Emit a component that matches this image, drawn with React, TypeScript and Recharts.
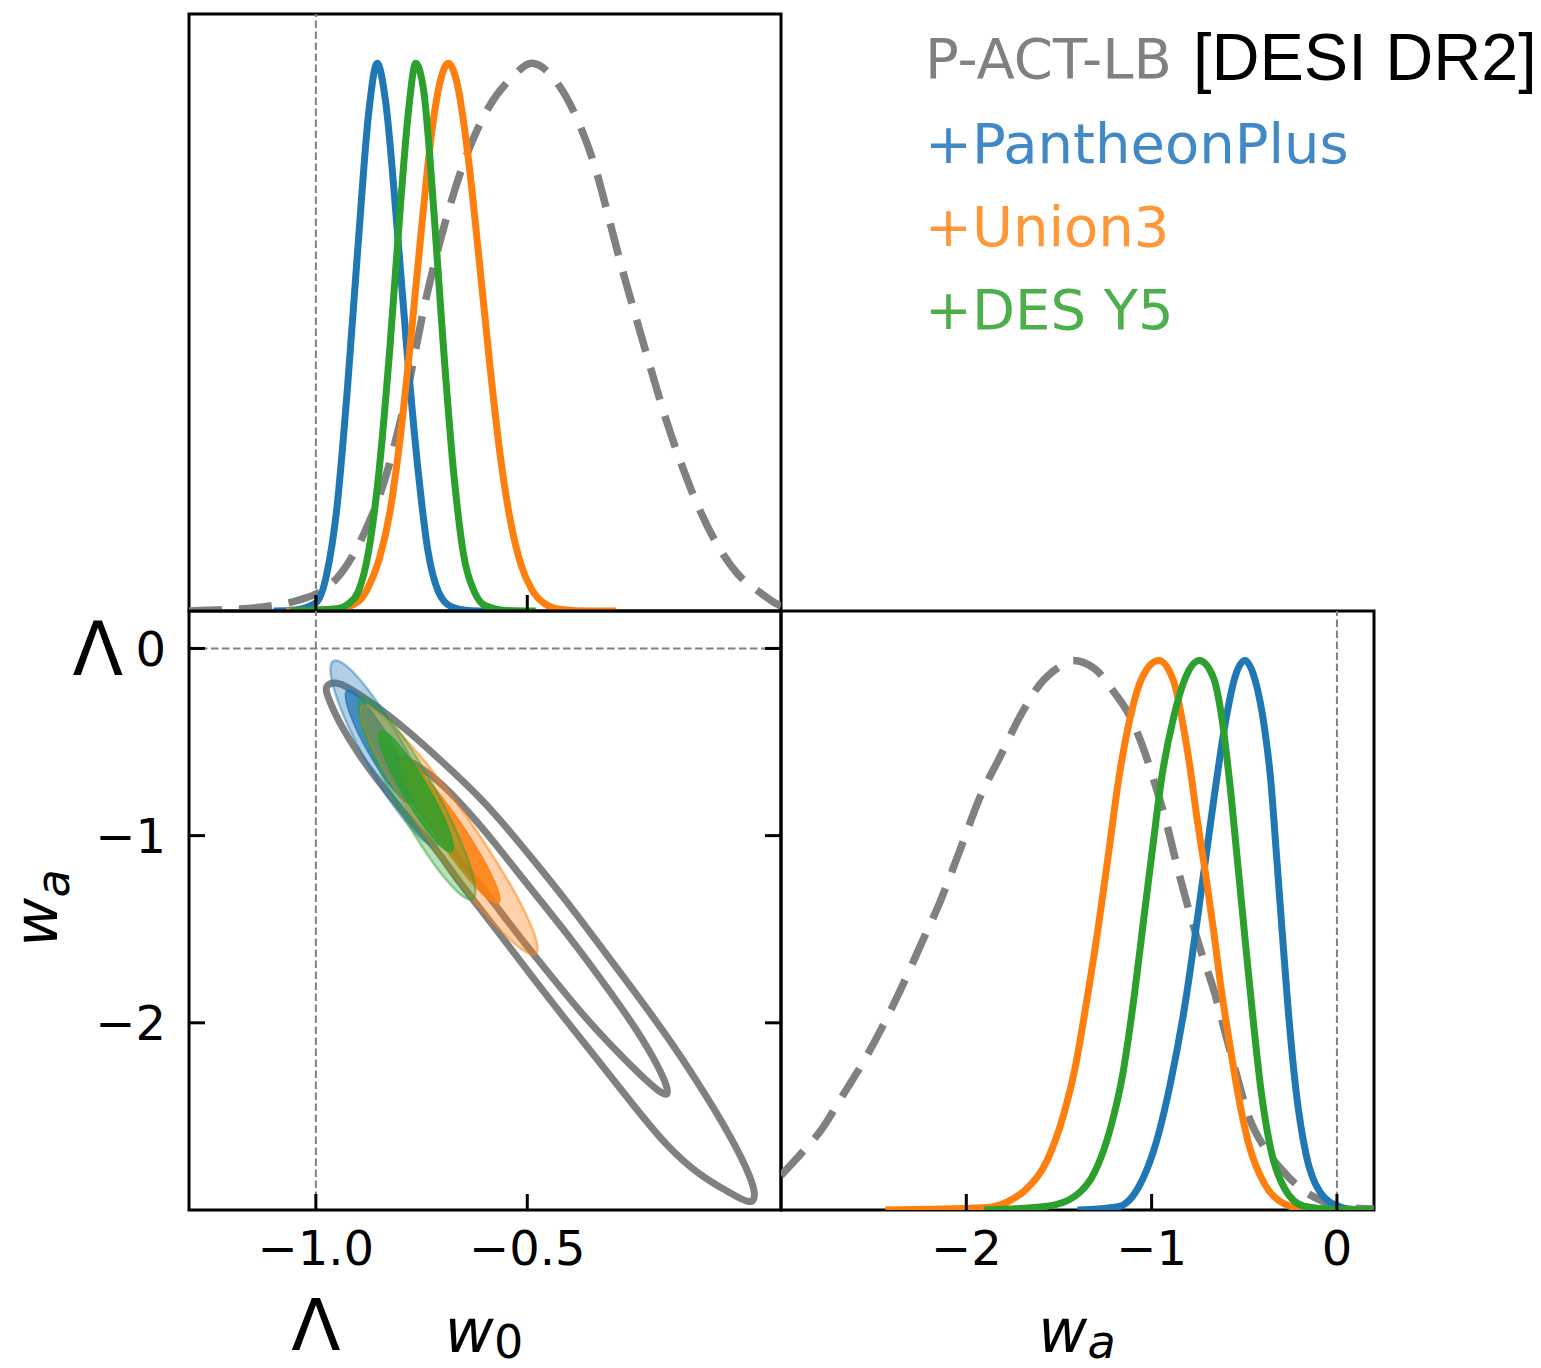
import React from 'react';
import {
  LineChart,
  Line,
  ScatterChart,
  Scatter,
  XAxis,
  YAxis,
  ReferenceLine,
  ReferenceArea,
} from 'recharts';

const PAGE_W = 1541;
const PAGE_H = 1368;

// ---------- axes ----------
const W0_DOMAIN: [number, number] = [-1.3, 0.1];
const WA_DOMAIN: [number, number] = [-3.0, 0.2];
const P_DOMAIN: [number, number] = [0, 1.09];
const W0_TICKS = [-1.0, -0.5];
const WA_TICKS = [0, -1, -2];
const WA_TICKS_BOTTOM = [-2, -1, 0];
const LAMBDA_W0 = -1;
const LAMBDA_WA = 0;
const LAMBDA_LABEL = '\u039B';

// ---------- legend ----------
const LEGEND_TITLE = 'P-ACT-LB';
const LEGEND_TAG = '[DESI DR2]';
const SERIES_NAMES = ['+PantheonPlus', '+Union3', '+DES Y5'];

// ---------- 1D marginals of w0 (w0, normalised density) ----------
const W0_GRAY: [number, number][] = [
  [-1.3, 0.0], [-1.2, 0.003], [-1.13, 0.007], [-1.04, 0.02], [-0.99, 0.035], [-0.95, 0.06],
  [-0.89, 0.135], [-0.835, 0.245], [-0.787, 0.39], [-0.741, 0.565], [-0.694, 0.71],
  [-0.647, 0.825], [-0.591, 0.92], [-0.535, 0.975], [-0.49, 1.0], [-0.43, 0.965],
  [-0.386, 0.905], [-0.34, 0.811], [-0.302, 0.702], [-0.274, 0.62], [-0.237, 0.52],
  [-0.209, 0.445], [-0.172, 0.35], [-0.134, 0.265], [-0.097, 0.193], [-0.05, 0.12],
  [-0.004, 0.069], [0.052, 0.033], [0.085, 0.015], [0.1, 0.009],
];
const W0_BLUE: [number, number][] = [
  [-1.1, 0], [-1.05, 0.002], [-1.0, 0.015], [-0.975, 0.065], [-0.95, 0.19], [-0.925, 0.41],
  [-0.9, 0.67], [-0.875, 0.91], [-0.855, 1.0], [-0.835, 0.93], [-0.81, 0.72], [-0.785, 0.48],
  [-0.76, 0.27], [-0.735, 0.11], [-0.71, 0.035], [-0.68, 0.008], [-0.64, 0.001], [-0.6, 0],
];
const W0_ORANGE: [number, number][] = [
  [-1.07, 0], [-0.95, 0.003], [-0.9, 0.017], [-0.875, 0.045], [-0.85, 0.095], [-0.825, 0.18],
  [-0.8, 0.32], [-0.775, 0.5], [-0.75, 0.7], [-0.725, 0.88], [-0.705, 0.97], [-0.687, 1.0],
  [-0.665, 0.96], [-0.64, 0.83], [-0.615, 0.65], [-0.59, 0.46], [-0.565, 0.29], [-0.54, 0.165],
  [-0.515, 0.085], [-0.49, 0.04], [-0.46, 0.014], [-0.42, 0.003], [-0.35, 0], [-0.29, 0],
];
const W0_GREEN: [number, number][] = [
  [-1.06, 0], [-0.95, 0.004], [-0.925, 0.012], [-0.9, 0.035], [-0.875, 0.11], [-0.85, 0.26],
  [-0.825, 0.48], [-0.8, 0.74], [-0.78, 0.92], [-0.764, 1.0], [-0.745, 0.95], [-0.72, 0.72],
  [-0.7, 0.5], [-0.675, 0.26], [-0.65, 0.1], [-0.625, 0.035], [-0.6, 0.01], [-0.55, 0.001],
  [-0.48, 0],
];

// ---------- 1D marginals of wa ----------
const WA_GRAY: [number, number][] = [
  [-3.0, 0.063], [-2.885, 0.105], [-2.778, 0.148], [-2.672, 0.206], [-2.565, 0.264],
  [-2.458, 0.33], [-2.352, 0.403], [-2.245, 0.483], [-2.139, 0.563], [-2.032, 0.657],
  [-1.925, 0.752], [-1.819, 0.824], [-1.712, 0.897], [-1.606, 0.955], [-1.499, 0.988],
  [-1.424, 1.0], [-1.307, 0.985], [-1.2, 0.941], [-1.115, 0.897], [-1.051, 0.846],
  [-0.987, 0.781], [-0.923, 0.708], [-0.859, 0.621], [-0.795, 0.541], [-0.731, 0.468],
  [-0.667, 0.403], [-0.603, 0.323], [-0.539, 0.243], [-0.476, 0.17], [-0.39, 0.113],
  [-0.305, 0.076], [-0.198, 0.04], [-0.07, 0.015], [0.058, 0.004], [0.2, 0.002],
];
const WA_BLUE: [number, number][] = [
  [-1.4, 0], [-1.18, 0.006], [-1.073, 0.04], [-0.987, 0.11], [-0.902, 0.225], [-0.817, 0.38],
  [-0.753, 0.53], [-0.71, 0.635], [-0.657, 0.765], [-0.603, 0.885], [-0.55, 0.97],
  [-0.497, 1.0], [-0.443, 0.966], [-0.39, 0.875], [-0.358, 0.785], [-0.326, 0.645],
  [-0.294, 0.5], [-0.262, 0.36], [-0.22, 0.215], [-0.166, 0.1], [-0.092, 0.033],
  [0.015, 0.006], [0.1, 0.001], [0.2, 0],
];
const WA_ORANGE: [number, number][] = [
  [-2.437, 0], [-1.904, 0.004], [-1.776, 0.015], [-1.67, 0.04], [-1.563, 0.091], [-1.478, 0.17],
  [-1.414, 0.257], [-1.35, 0.381], [-1.286, 0.519], [-1.232, 0.65], [-1.179, 0.781],
  [-1.115, 0.897], [-1.051, 0.969], [-0.962, 1.0], [-0.881, 0.962], [-0.838, 0.897],
  [-0.795, 0.81], [-0.753, 0.708], [-0.71, 0.614], [-0.667, 0.512], [-0.625, 0.403],
  [-0.582, 0.309], [-0.539, 0.221], [-0.476, 0.12], [-0.39, 0.047], [-0.284, 0.011],
  [-0.177, 0.002], [0.0, 0], [0.2, 0],
];
const WA_GREEN: [number, number][] = [
  [-1.904, 0], [-1.563, 0.007], [-1.414, 0.025], [-1.307, 0.069], [-1.222, 0.149],
  [-1.158, 0.243], [-1.094, 0.389], [-1.041, 0.534], [-0.998, 0.65], [-0.945, 0.788],
  [-0.881, 0.897], [-0.817, 0.969], [-0.742, 1.0], [-0.667, 0.969], [-0.625, 0.904],
  [-0.582, 0.788], [-0.539, 0.643], [-0.497, 0.497], [-0.454, 0.352], [-0.411, 0.221],
  [-0.358, 0.112], [-0.284, 0.04], [-0.177, 0.007], [0.0, 0.001], [0.2, 0],
];

// ---------- 2D contours (w0, wa) ----------
const GRAY_95: [number, number][] = [
  [-0.9787, -0.2011], [-0.9551, -0.1743], [-0.9196, -0.2118], [-0.8558, -0.308], [-0.7778, -0.4471],
  [-0.6998, -0.6075], [-0.6194, -0.7786], [-0.565, -0.9123], [-0.487, -1.1262], [-0.4066, -1.3508],
  [-0.3286, -1.5861], [-0.2506, -1.8214], [-0.1702, -2.0674], [-0.0922, -2.3348], [-0.0284, -2.5701],
  [0.0189, -2.7733], [0.0426, -2.9176], [0.0307, -2.9765], [-0.0213, -2.907], [-0.0922, -2.816],
  [-0.1702, -2.661], [-0.2506, -2.4364], [-0.3286, -2.2118], [-0.4066, -1.9925], [-0.487, -1.7572],
  [-0.565, -1.5273], [-0.6194, -1.3668], [-0.6714, -1.2171], [-0.7234, -1.046], [-0.7612, -0.9604],
  [-0.8085, -0.8321], [-0.8558, -0.6984], [-0.896, -0.5754], [-0.9362, -0.431], [-0.9598, -0.3241],
  [-0.974, -0.2439],
];
const GRAY_68: [number, number][] = [
  [-0.818, -0.6021], [-0.7967, -0.5754], [-0.7376, -0.6556], [-0.6832, -0.7626], [-0.6194, -0.923],
  [-0.565, -1.0727], [-0.487, -1.2973], [-0.4066, -1.5219], [-0.3286, -1.7572], [-0.2506, -2.0032],
  [-0.1986, -2.1957], [-0.1702, -2.3294], [-0.1655, -2.3936], [-0.1868, -2.3722], [-0.234, -2.2759],
  [-0.305, -2.1155], [-0.3759, -1.939], [-0.4468, -1.7412], [-0.5177, -1.5433], [-0.5887, -1.3294],
  [-0.6596, -1.1262], [-0.7305, -0.923], [-0.7778, -0.7786], [-0.8061, -0.6877],
];
const BLUE_95: [number, number][] = [
  [-0.7123, -1.0636], [-0.7052, -1.0043], [-0.7182, -0.8775], [-0.7492, -0.7016], [-0.7936, -0.5048],
  [-0.8447, -0.3155], [-0.8946, -0.1642], [-0.9355, -0.0727], [-0.9615, -0.0551], [-0.9686, -0.1144],
  [-0.9556, -0.2412], [-0.9246, -0.4171], [-0.8801, -0.6139], [-0.8291, -0.8032], [-0.7792, -0.9545],
  [-0.7383, -1.046],
];
const BLUE_68: [number, number][] = [
  [-0.7695, -0.8374], [-0.7652, -0.8005], [-0.7738, -0.7219], [-0.7939, -0.6139], [-0.822, -0.4925],
  [-0.8544, -0.3765], [-0.8858, -0.2834], [-0.9118, -0.2273], [-0.9279, -0.2171], [-0.9322, -0.254],
  [-0.9236, -0.3326], [-0.9035, -0.4406], [-0.8754, -0.562], [-0.843, -0.6781], [-0.8116, -0.7711],
  [-0.7856, -0.8273],
];
const ORANGE_95: [number, number][] = [
  [-0.4749, -1.6492], [-0.474, -1.5701], [-0.5052, -1.4005], [-0.5641, -1.1652], [-0.6411, -0.9005],
  [-0.7253, -0.6465], [-0.8031, -0.4412], [-0.8631, -0.3176], [-0.8962, -0.293], [-0.8972, -0.3722],
  [-0.866, -0.5417], [-0.8071, -0.777], [-0.73, -1.0417], [-0.6459, -1.2957], [-0.5681, -1.5011],
  [-0.508, -1.6246],
];
const ORANGE_68: [number, number][] = [
  [-0.565, -1.3701], [-0.5634, -1.3241], [-0.5804, -1.2246], [-0.6125, -1.0888], [-0.6558, -0.9342],
  [-0.7033, -0.7872], [-0.7473, -0.6684], [-0.7818, -0.5968], [-0.8014, -0.5829], [-0.8031, -0.6289],
  [-0.7861, -0.7283], [-0.7539, -0.8642], [-0.7106, -1.0187], [-0.6631, -1.1658], [-0.6191, -1.2845],
  [-0.5846, -1.3561],
];
const GREEN_95: [number, number][] = [
  [-0.626, -1.3535], [-0.6196, -1.2904], [-0.635, -1.1524], [-0.6693, -0.9615], [-0.7177, -0.7455],
  [-0.7728, -0.538], [-0.826, -0.3706], [-0.8697, -0.2679], [-0.8965, -0.2465], [-0.9028, -0.3096],
  [-0.8875, -0.4476], [-0.8532, -0.6385], [-0.8047, -0.8545], [-0.7496, -1.062], [-0.6965, -1.2294],
  [-0.6527, -1.3321],
];
const GREEN_68: [number, number][] = [
  [-0.6768, -1.0936], [-0.6733, -1.0545], [-0.6835, -0.9717], [-0.7059, -0.8567], [-0.7371, -0.7273],
  [-0.7726, -0.6032], [-0.8064, -0.5032], [-0.8336, -0.4428], [-0.8504, -0.4316], [-0.8539, -0.4706],
  [-0.8437, -0.5535], [-0.8213, -0.6684], [-0.7901, -0.7979], [-0.7546, -0.9219], [-0.7208, -1.0219],
  [-0.6936, -1.0824],
];

// ---------- style ----------
const FONT = '"DejaVu Sans", "Bitstream Vera Sans", sans-serif';
const GRAY = '#808080';
const BLUE = '#1f77b4';
const ORANGE = '#ff7f0e';
const GREEN = '#2ca02c';
const LINE_W = 7;
const AX = 30; // axis band size
const TICK_LEN = 16;

const TL = { left: 189, right: 781, top: 14, bottom: 611 };
const BL = { left: 189, right: 781, top: 611, bottom: 1210 };
const BR = { left: 781, right: 1374, top: 611, bottom: 1210 };

const toXY = (arr: [number, number][]) => arr.map(([x, y]) => ({ x, y }));
const minus = (s: string) => s.replace('-', '\u2212');
const fmtW0 = (v: number) => minus(v.toFixed(1));
const fmtWa = (v: number) => minus(v.toFixed(0));
const NoDot = () => <g />;

// x-axis tick: inward tick mark (dir -1 = up for bottom axis, +1 = down for top axis), optional label
const makeXTick = (dir: number, fmt?: (v: number) => string, lambda?: number) => (p: any) => {
  const { x, y, payload } = p;
  const v = payload.value;
  return (
    <g>
      <line x1={x} x2={x} y1={y} y2={y + dir * TICK_LEN} stroke="#000" strokeWidth={3} />
      {fmt ? (
        <text x={x} y={y + 55} textAnchor="middle" fontFamily={FONT} fontSize={48} fill="#000">
          {fmt(v)}
        </text>
      ) : null}
      {lambda !== undefined && v === lambda ? (
        <text x={x} y={y + 140} textAnchor="middle" fontFamily={FONT} fontSize={72} fill="#000">
          {LAMBDA_LABEL}
        </text>
      ) : null}
    </g>
  );
};

// y-axis tick: inward tick mark (dir +1 = right for left axis, -1 = left for right axis), optional label
const makeYTick = (dir: number, fmt?: (v: number) => string, lambda?: number) => (p: any) => {
  const { x, y, payload } = p;
  const v = payload.value;
  return (
    <g>
      <line x1={x} x2={x + dir * TICK_LEN} y1={y} y2={y} stroke="#000" strokeWidth={3} />
      {fmt ? (
        <text x={x - 23} y={y + 17.5} textAnchor="end" fontFamily={FONT} fontSize={48} fill="#000">
          {fmt(v)}
        </text>
      ) : null}
      {lambda !== undefined && v === lambda ? (
        <text x={x - 66} y={y + 27} textAnchor="end" fontFamily={FONT} fontSize={74} fill="#000">
          {LAMBDA_LABEL}
        </text>
      ) : null}
    </g>
  );
};

const layer: React.CSSProperties = { position: 'absolute', left: 0, top: 0 };

function TopLeft() {
  return (
    <div style={layer}>
      <LineChart width={PAGE_W} height={PAGE_H}
        margin={{ top: TL.top, left: TL.left, right: PAGE_W - TL.right, bottom: PAGE_H - TL.bottom - AX }}>
        <XAxis dataKey="x" type="number" domain={W0_DOMAIN} allowDataOverflow ticks={W0_TICKS}
          interval={0} height={AX} tickSize={0} tickMargin={0} tickLine={false} axisLine={false}
          tick={makeXTick(-1)} />
        <YAxis dataKey="y" type="number" domain={P_DOMAIN} allowDataOverflow hide />
        <ReferenceLine x={LAMBDA_W0} stroke={GRAY} strokeWidth={2} strokeDasharray="7.5 3.5" />
        <Line data={toXY(W0_GRAY)} dataKey="y" type="monotone" stroke={GRAY} strokeWidth={7.5}
          strokeDasharray="33 17" dot={false} isAnimationActive={false} />
        <Line data={toXY(W0_BLUE)} dataKey="y" type="monotone" stroke={BLUE} strokeWidth={LINE_W}
          dot={false} isAnimationActive={false} />
        <Line data={toXY(W0_ORANGE)} dataKey="y" type="monotone" stroke={ORANGE} strokeWidth={LINE_W}
          dot={false} isAnimationActive={false} />
        <Line data={toXY(W0_GREEN)} dataKey="y" type="monotone" stroke={GREEN} strokeWidth={LINE_W}
          dot={false} isAnimationActive={false} />
        <ReferenceArea x1={W0_DOMAIN[0]} x2={W0_DOMAIN[1]} y1={P_DOMAIN[0]} y2={P_DOMAIN[1]}
          fill="none" stroke="#000" strokeWidth={3} ifOverflow="visible" />
      </LineChart>
    </div>
  );
}

function BottomLeft() {
  return (
    <div style={layer}>
      <ScatterChart width={PAGE_W} height={PAGE_H}
        margin={{ top: BL.top - AX, left: BL.left - AX, right: PAGE_W - BL.right - AX, bottom: PAGE_H - BL.bottom - AX }}>
        <XAxis xAxisId={0} dataKey="x" type="number" domain={W0_DOMAIN} allowDataOverflow ticks={W0_TICKS}
          interval={0} height={AX} tickSize={0} tickMargin={0} tickLine={false} axisLine={false}
          tick={makeXTick(-1, fmtW0, LAMBDA_W0)} />
        <XAxis xAxisId="top" orientation="top" type="number" domain={W0_DOMAIN} allowDataOverflow
          ticks={W0_TICKS} interval={0} height={AX} tickSize={0} tickMargin={0} tickLine={false}
          axisLine={false} tick={makeXTick(1)} />
        <YAxis yAxisId={0} dataKey="y" type="number" domain={WA_DOMAIN} allowDataOverflow ticks={WA_TICKS}
          interval={0} width={AX} tickSize={0} tickMargin={0} tickLine={false} axisLine={false}
          tick={makeYTick(1, fmtWa, LAMBDA_WA)} />
        <YAxis yAxisId="right" orientation="right" type="number" domain={WA_DOMAIN} allowDataOverflow
          ticks={WA_TICKS} interval={0} width={AX} tickSize={0} tickMargin={0} tickLine={false}
          axisLine={false} tick={makeYTick(-1)} />
        <ReferenceLine x={LAMBDA_W0} stroke={GRAY} strokeWidth={2} strokeDasharray="7.5 3.5" />
        <ReferenceLine y={LAMBDA_WA} stroke={GRAY} strokeWidth={2} strokeDasharray="7.5 3.5" />
        <Scatter data={toXY(GRAY_95)} shape={NoDot} lineJointType="basisClosed" isAnimationActive={false}
          line={{ stroke: GRAY, strokeWidth: 7, fill: 'none' }} />
        <Scatter data={toXY(GRAY_68)} shape={NoDot} lineJointType="basisClosed" isAnimationActive={false}
          line={{ stroke: GRAY, strokeWidth: 7, fill: 'none' }} />
        <Scatter data={toXY(BLUE_95)} shape={NoDot} lineJointType="basisClosed" isAnimationActive={false}
          line={{ stroke: 'rgba(31,119,180,0.45)', strokeWidth: 2.5, fill: 'rgba(31,119,180,0.35)' }} />
        <Scatter data={toXY(BLUE_68)} shape={NoDot} lineJointType="basisClosed" isAnimationActive={false}
          line={{ stroke: 'rgba(31,119,180,0.75)', strokeWidth: 1.5, fill: 'rgba(31,119,180,0.75)' }} />
        <Scatter data={toXY(ORANGE_95)} shape={NoDot} lineJointType="basisClosed" isAnimationActive={false}
          line={{ stroke: 'rgba(255,127,14,0.5)', strokeWidth: 2.5, fill: 'rgba(255,127,14,0.35)' }} />
        <Scatter data={toXY(ORANGE_68)} shape={NoDot} lineJointType="basisClosed" isAnimationActive={false}
          line={{ stroke: 'rgba(255,127,14,0.85)', strokeWidth: 1.5, fill: 'rgba(255,127,14,0.85)' }} />
        <Scatter data={toXY(GREEN_95)} shape={NoDot} lineJointType="basisClosed" isAnimationActive={false}
          line={{ stroke: 'rgba(44,160,44,0.45)', strokeWidth: 2.5, fill: 'rgba(44,160,44,0.33)' }} />
        <Scatter data={toXY(GREEN_68)} shape={NoDot} lineJointType="basisClosed" isAnimationActive={false}
          line={{ stroke: 'rgba(44,160,44,0.8)', strokeWidth: 1.5, fill: 'rgba(44,160,44,0.8)' }} />
        <ReferenceArea x1={W0_DOMAIN[0]} x2={W0_DOMAIN[1]} y1={WA_DOMAIN[0]} y2={WA_DOMAIN[1]}
          fill="none" stroke="#000" strokeWidth={3} ifOverflow="visible" />
      </ScatterChart>
    </div>
  );
}

function BottomRight() {
  return (
    <div style={layer}>
      <LineChart width={PAGE_W} height={PAGE_H}
        margin={{ top: BR.top, left: BR.left, right: PAGE_W - BR.right, bottom: PAGE_H - BR.bottom - AX }}>
        <XAxis xAxisId={0} dataKey="x" type="number" domain={WA_DOMAIN} allowDataOverflow
          ticks={WA_TICKS_BOTTOM} interval={0} height={AX} tickSize={0} tickMargin={0} tickLine={false}
          axisLine={false} tick={makeXTick(-1, fmtWa)} />
        <YAxis dataKey="y" type="number" domain={P_DOMAIN} allowDataOverflow hide />
        <ReferenceLine x={LAMBDA_WA} stroke={GRAY} strokeWidth={2} strokeDasharray="7.5 3.5" />
        <Line data={toXY(WA_GRAY)} dataKey="y" type="monotone" stroke={GRAY} strokeWidth={7.5}
          strokeDasharray="33 17" dot={false} isAnimationActive={false} />
        <Line data={toXY(WA_BLUE)} dataKey="y" type="monotone" stroke={BLUE} strokeWidth={LINE_W}
          dot={false} isAnimationActive={false} />
        <Line data={toXY(WA_ORANGE)} dataKey="y" type="monotone" stroke={ORANGE} strokeWidth={LINE_W}
          dot={false} isAnimationActive={false} />
        <Line data={toXY(WA_GREEN)} dataKey="y" type="monotone" stroke={GREEN} strokeWidth={LINE_W}
          dot={false} isAnimationActive={false} />
        <ReferenceArea x1={WA_DOMAIN[0]} x2={WA_DOMAIN[1]} y1={P_DOMAIN[0]} y2={P_DOMAIN[1]}
          fill="none" stroke="#000" strokeWidth={3} ifOverflow="visible" />
      </LineChart>
    </div>
  );
}

function Labels() {
  const legendColors = ['#4189c6', '#ff9638', '#4caf4c'];
  return (
    <svg width={PAGE_W} height={PAGE_H} style={{ ...layer, pointerEvents: 'none' }}>
      <text x={925} y={78} fontFamily={FONT} fontSize={56} fill={GRAY}>{LEGEND_TITLE}</text>
      <text x={1193} y={80} fontFamily='"Liberation Sans", Arial, sans-serif' fontSize={66.5} fill="#000">
        {LEGEND_TAG}
      </text>
      {SERIES_NAMES.map((n, i) => (
        <text key={n} x={925} y={163 + i * 83} fontFamily={FONT} fontSize={56} fill={legendColors[i]}>
          {n}
        </text>
      ))}
      <text x={484} y={1352} textAnchor="middle" fontFamily={FONT} fontSize={60} fontStyle="italic">
        w<tspan fontSize={46} dy={6} fontStyle="normal">0</tspan>
      </text>
      <text x={1077} y={1352} textAnchor="middle" fontFamily={FONT} fontSize={60} fontStyle="italic">
        w<tspan fontSize={46} dy={6}>a</tspan>
      </text>
      <text transform="translate(57, 908) rotate(-90)" textAnchor="middle" fontFamily={FONT}
        fontSize={60} fontStyle="italic">
        w<tspan fontSize={46} dy={12}>a</tspan>
      </text>
    </svg>
  );
}

export default function App() {
  return (
    <div style={{ position: 'absolute', left: 0, top: 0, width: PAGE_W, height: PAGE_H }}>
      <TopLeft />
      <BottomLeft />
      <BottomRight />
      <Labels />
    </div>
  );
}
